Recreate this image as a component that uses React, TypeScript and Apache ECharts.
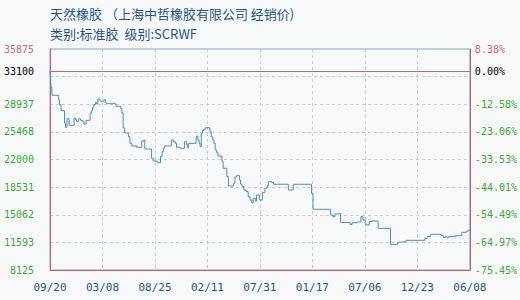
import React, { useEffect, useRef } from "react";
import * as echarts from "echarts";

// Axis setup: prices from 8125 to 35875, base (reference) price 33100
const PRICE_MIN = 8125;
const PRICE_MAX = 35875;
const PRICE_STEP = 3468.75;
const BASE_PRICE = 33100;

// x axis is measured in days since the first date, one tick every 170 days
const DAY_MAX = 1360;
const DAY_STEP = 170;
const dateLabels = ["09/20", "03/08", "08/25", "02/11", "07/31", "01/17", "07/06", "12/23", "06/08"];

// Price change points (day offset, price in yuan/ton)
const days = [
  0, 2, 3, 6, 28, 31, 36, 47, 50, 55, 62, 78, 82, 86, 93, 99, 106, 110, 117, 130,
  134, 138, 142, 147, 151, 155, 160, 164, 175, 179, 184, 203, 210, 214, 229, 233, 237, 242, 254, 259,
  265, 281, 297, 304, 307, 329, 334, 347, 358, 363, 367, 371, 393, 399, 406, 410, 421, 436, 443, 447,
  449, 473, 475, 479, 483, 486, 490, 494, 499, 503, 518, 522, 527, 531, 535, 540, 544, 557, 561, 573,
  578, 594, 599, 604, 614, 617, 622, 628, 635, 642, 648, 654, 658, 665, 669, 679, 688, 696, 703, 707,
  718, 724, 772, 788, 847, 852, 909, 916, 923, 934, 941, 972, 978, 993, 1007, 1014, 1021, 1023, 1034, 1042,
  1060, 1063, 1103, 1126, 1133, 1153, 1214, 1222, 1233, 1267, 1274, 1280, 1286, 1291, 1314, 1334, 1350, 1356, 1360,
];
const prices = [
  33100, 32480, 31100, 30060, 29470, 28880, 28130, 26580, 26040, 27120, 26290, 27210, 27000, 26800, 27120, 26920, 26770, 26460, 26920, 27840,
  28130, 28550, 28880, 29180, 28970, 29600, 29430, 29310, 29510, 29130, 29010, 29090, 28970, 28680, 28380, 27840, 25960, 25330, 24860, 24030,
  23700, 23530, 24320, 24450, 23320, 22150, 21810, 21600, 22350, 22980, 23410, 23700, 24450, 24240, 24030, 23530, 23410, 24240, 23820, 23410,
  24030, 24450, 24950, 24450, 24030, 23610, 25290, 25620, 25790, 25990, 25490, 24860, 24450, 24030, 23190, 22850, 22440, 21720, 20900, 19840,
  18670, 19010, 19800, 19970, 19430, 18920, 18610, 18170, 17960, 17330, 16910, 16540, 17130, 16790, 17540, 16910, 17860, 18380, 18710, 19210,
  19110, 18890, 18170, 18890, 17760, 15750, 15030, 14820, 15160, 15220, 14090, 13840, 14050, 14150, 14820, 14400, 13990, 13780, 14190, 14280,
  14190, 13360, 11350, 11600, 11680, 11850, 12100, 12330, 12610, 12430, 12180, 12310, 12180, 12310, 12430, 12860, 13020, 13110, 13240,
];

const TITLE = "天然橡胶 （上海中哲橡胶有限公司 经销价)";
const SUBTITLE = "类别:标准胶  级别:SCRWF";

const GREEN = "#33aa33";
const PINK = "#cc6677";
const BORDER_RED = "#c8607e";
const BLUE_TEXT = "#1d5588";
const LABEL_FONT = "'DejaVu Sans Mono', monospace";
const LABEL_SIZE = 10;

export default function App() {
  const ref = useRef<HTMLDivElement>(null);

  useEffect(() => {
    if (!ref.current) return;
    const chart = echarts.init(ref.current, undefined, { renderer: "svg" });

    // y values are offsets above PRICE_MIN so the ticks start at 0
    const span = PRICE_MAX - PRICE_MIN;
    const points = days.map((d, i) => [d, prices[i] - PRICE_MIN]);
    const basePos = BASE_PRICE - PRICE_MIN;
    const hiddenTick = 7 * PRICE_STEP;

    const isHidden = (v: number) => Math.abs(v - hiddenTick) < 1;
    const isTop = (v: number) => Math.abs(v - span) < 1;
    const labelColor = (v: any) => (isTop(Number(v)) ? PINK : GREEN);

    const pct = (v: number) => (((v + PRICE_MIN) / BASE_PRICE - 1) * 100).toFixed(2) + "%";

    const yCommon = {
      type: "value",
      min: 0,
      max: span,
      interval: PRICE_STEP,
      axisTick: { show: false },
      axisLine: { show: true, lineStyle: { color: BORDER_RED, width: 1 } },
    };

    chart.setOption({
      animation: false,
      backgroundColor: "#f8fafa",
      grid: {
        left: 50,
        right: 50,
        top: 49,
        bottom: 30,
        show: true,
        borderColor: "#8fa2b5",
        borderWidth: 1,
        backgroundColor: "transparent",
      },
      graphic: [
        {
          type: "text",
          left: 50,
          top: 7,
          style: { text: TITLE, fill: BLUE_TEXT, font: "13px 'Noto Sans CJK SC'" },
        },
        {
          type: "text",
          left: 50,
          top: 27,
          style: { text: SUBTITLE, fill: BLUE_TEXT, font: "13px 'Noto Sans CJK SC'" },
        },
      ],
      xAxis: {
        type: "value",
        min: 0,
        max: DAY_MAX,
        interval: DAY_STEP,
        axisLine: { show: true, lineStyle: { color: BORDER_RED, width: 1 } },
        axisTick: { show: false },
        axisLabel: {
          margin: 12,
          color: BLUE_TEXT,
          fontFamily: LABEL_FONT,
          fontSize: 11,
          showMinLabel: true,
          showMaxLabel: true,
          formatter: (v: number) => dateLabels[Math.round(v / DAY_STEP)] ?? "",
        },
        splitLine: { show: true, lineStyle: { color: "#cccccc", type: [3, 3] } },
      },
      yAxis: [
        {
          ...yCommon,
          position: "left",
          axisLabel: {
            margin: 16,
            fontFamily: LABEL_FONT,
            fontSize: LABEL_SIZE,
            showMinLabel: true,
            showMaxLabel: true,
            color: labelColor,
            formatter: (v: number) => (isHidden(v) ? "" : String(Math.floor(v + PRICE_MIN))),
          },
          splitLine: { show: true, lineStyle: { color: "#cccccc", type: [3, 3] } },
        },
        {
          ...yCommon,
          position: "right",
          axisLabel: {
            margin: 5,
            fontFamily: LABEL_FONT,
            fontSize: LABEL_SIZE,
            showMinLabel: true,
            showMaxLabel: true,
            color: labelColor,
            formatter: (v: number) => (isHidden(v) ? "" : pct(v)),
          },
          splitLine: { show: false },
        },
      ],
      series: [
        {
          type: "line",
          step: "end",
          data: points,
          showSymbol: false,
          lineStyle: { color: "#4a8fba", width: 1 },
          markLine: {
            silent: true,
            symbol: ["none", "none"],
            lineStyle: { color: BORDER_RED, type: "solid", width: 1 },
            data: [
              {
                yAxis: basePos,
                label: {
                  position: "start",
                  distance: 16,
                  color: "#000",
                  fontFamily: LABEL_FONT,
                  fontSize: LABEL_SIZE,
                  formatter: String(BASE_PRICE),
                },
              },
              {
                yAxis: basePos,
                label: {
                  position: "end",
                  distance: 5,
                  color: "#000",
                  fontFamily: LABEL_FONT,
                  fontSize: LABEL_SIZE,
                  formatter: "0.00%",
                },
              },
            ],
          },
        },
      ],
    });

    return () => chart.dispose();
  }, []);

  return (
    <div
      ref={ref}
      style={{ position: "absolute", left: 0, top: 0, width: 520, height: 300 }}
    />
  );
}
